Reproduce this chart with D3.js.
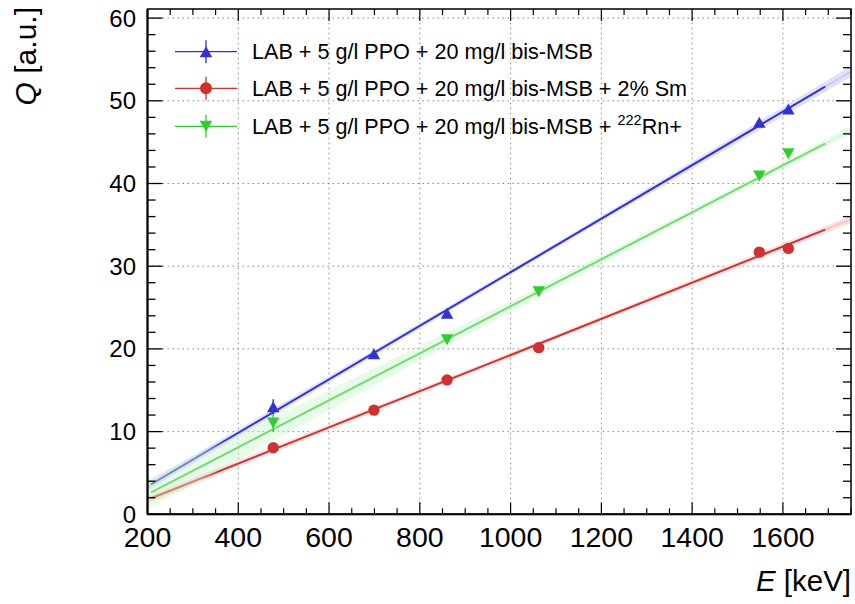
<!DOCTYPE html>
<html>
<head>
<meta charset="utf-8">
<script src="https://cdn.jsdelivr.net/npm/d3@7"></script>
<style>
  html, body { margin: 0; padding: 0; background: #fff; }
  svg { display: block; font-family: "Liberation Sans", Arial, Helvetica, sans-serif; }
</style>
</head>
<body>
<svg id="chart" width="855" height="604"></svg>
<script>
// Measured light yield Q versus deposited energy E for three scintillator samples
const seriesNames = [
  "LAB + 5 g/l PPO + 20 mg/l bis-MSB",
  "LAB + 5 g/l PPO + 20 mg/l bis-MSB + 2% Sm",
  "LAB + 5 g/l PPO + 20 mg/l bis-MSB + "
];

const blueE = [477, 699, 860, 1548, 1612];
const blueQ = [13.0, 19.4, 24.3, 47.4, 49.0];
const blueErr = [0.9, 0.3, 0.4, 0.3, 0.3];

const redE = [477, 699, 860, 1062, 1548, 1612];
const redQ = [8.05, 12.6, 16.25, 20.15, 31.7, 32.15];
const redErr = [0.3, 0.3, 0.3, 0.3, 0.3, 0.3];

const greenE = [477, 860, 1062, 1548, 1612];
const greenQ = [11.05, 21.1, 26.9, 40.9, 43.6];
const greenErr = [1.1, 0.5, 0.4, 0.3, 0.3];

// Linear fit parameters (Q = slope * E + intercept) and fitted range
const fitSlope = [0.03237, 0.02187, 0.0284];
const fitIntercept = [-3.1, -2.61, -3.25];
const fitRange = [208, 1693];

// Confidence band half-widths sampled along E
const bandE = [200, 400, 600, 800, 1000, 1200, 1400, 1600, 1750];
const blueBand = [0.5, 0.45, 0.4, 0.35, 0.3, 0.35, 0.45, 0.55, 0.65];
const redBand = [0.45, 0.4, 0.35, 0.3, 0.3, 0.3, 0.35, 0.4, 0.45];
const greenBand = [1.8, 1.5, 1.2, 0.9, 0.65, 0.5, 0.45, 0.45, 0.5];

const xTicks = [200, 400, 600, 800, 1000, 1200, 1400, 1600];
const yTicks = [0, 10, 20, 30, 40, 50, 60];

const svg = d3.select("#chart");
const L = 147.5, R = 851, T = 9, B = 514.3;

const x = d3.scaleLinear().domain([200, 1750]).range([L, R]);
const y = d3.scaleLinear().domain([0, 61.1]).range([B, T]);

const colors = ["#3232cc", "#cc3232", "#32cc32"];

// grid
const grid = svg.append("g").attr("stroke", "#8a8a8a").attr("stroke-width", 1)
  .attr("stroke-dasharray", "1.6,3.4");
xTicks.filter(d => d > 200).forEach(d => {
  grid.append("line").attr("x1", x(d)).attr("x2", x(d)).attr("y1", B).attr("y2", T);
});
yTicks.filter(d => d > 0).forEach(d => {
  grid.append("line").attr("x1", L).attr("x2", R).attr("y1", y(d)).attr("y2", y(d));
});

const plot = svg.append("g");
svg.append("clipPath").attr("id", "clip").append("rect")
  .attr("x", L).attr("y", T).attr("width", R - L).attr("height", B - T);
plot.attr("clip-path", "url(#clip)");

const fitQ = (i, e) => fitSlope[i] * e + fitIntercept[i];

function band(i, widths) {
  return d3.area()
    .x((e) => x(e))
    .y0((e, k) => y(fitQ(i, e) - widths[k]))
    .y1((e, k) => y(fitQ(i, e) + widths[k]))(bandE);
}

// blue and red bands under the lines
plot.append("path").attr("d", band(1, redBand)).attr("fill", "#fbdede");
plot.append("path").attr("d", band(0, blueBand)).attr("fill", "#dfe0fa");

// faint full-range fit functions and solid fitted lines
[0, 1, 2].forEach(i => {
  plot.append("line")
    .attr("x1", x(200)).attr("y1", y(fitQ(i, 200)))
    .attr("x2", x(1750)).attr("y2", y(fitQ(i, 1750)))
    .attr("stroke", colors[i]).attr("stroke-opacity", 0.18).attr("stroke-width", 1.2);
  plot.append("line")
    .attr("x1", x(fitRange[0])).attr("y1", y(fitQ(i, fitRange[0])))
    .attr("x2", x(fitRange[1])).attr("y2", y(fitQ(i, fitRange[1])))
    .attr("stroke", colors[i]).attr("stroke-width", 2);
});

// green band drawn over the lines
plot.append("path").attr("d", band(2, greenBand))
  .attr("fill", "#c8f3c8").attr("fill-opacity", 0.42);

// markers
function triPath(up, w, h) {
  const s = up ? 1 : -1;
  return `M${-w / 2},${s * h / 2}L${w / 2},${s * h / 2}L0,${-s * h / 2}Z`;
}

function drawSeries(E, Q, err, i, shape) {
  const g = svg.append("g");
  E.forEach((e, k) => {
    g.append("line").attr("x1", x(e)).attr("x2", x(e))
      .attr("y1", y(Q[k] - err[k])).attr("y2", y(Q[k] + err[k]))
      .attr("stroke", colors[i]).attr("stroke-width", 1.5);
    if (shape === "circle") {
      g.append("circle").attr("cx", x(e)).attr("cy", y(Q[k])).attr("r", 5.7)
        .attr("fill", colors[i]);
    } else {
      g.append("path").attr("transform", `translate(${x(e)},${y(Q[k])})`)
        .attr("d", triPath(shape === "up", 12.5, 11)).attr("fill", colors[i]);
    }
  });
}
drawSeries(blueE, blueQ, blueErr, 0, "up");
drawSeries(redE, redQ, redErr, 1, "circle");
drawSeries(greenE, greenQ, greenErr, 2, "down");

// frame and ticks
const ax = svg.append("g").attr("stroke", "#000").attr("fill", "none");
ax.append("rect").attr("x", L).attr("y", T).attr("width", R - L).attr("height", B - T)
  .attr("stroke-width", 1.5);
ax.append("line").attr("x1", L).attr("x2", L).attr("y1", T).attr("y2", B).attr("stroke-width", 2);
ax.append("line").attr("x1", L).attr("x2", R).attr("y1", B).attr("y2", B).attr("stroke-width", 2);
d3.range(0, 61, 2).forEach(v => {
  const major = v % 10 === 0;
  const len = major ? 15 : 8;
  ax.append("line").attr("x1", L).attr("x2", L + len).attr("y1", y(v)).attr("y2", y(v)).attr("stroke-width", 1.3);
  ax.append("line").attr("x1", R).attr("x2", R - len).attr("y1", y(v)).attr("y2", y(v)).attr("stroke-width", 1.3);
});
d3.range(200, 1751, 50).forEach(v => {
  const major = v % 200 === 0;
  const len = major ? 12 : 6;
  ax.append("line").attr("x1", x(v)).attr("x2", x(v)).attr("y1", B).attr("y2", B - len).attr("stroke-width", 1.2);
  ax.append("line").attr("x1", x(v)).attr("x2", x(v)).attr("y1", T).attr("y2", T + len).attr("stroke-width", 1.2);
});

// tick labels
svg.append("g").selectAll("text").data(yTicks).join("text")
  .attr("x", 136).attr("y", d => y(d) + 8.5).attr("text-anchor", "end")
  .attr("font-size", 24).text(d => d);
svg.append("g").selectAll("text").data(xTicks).join("text")
  .attr("x", d => x(d)).attr("y", 547).attr("text-anchor", "middle")
  .attr("font-size", 28.5).text(d => d);

// axis titles
const yt = svg.append("text").attr("transform", "translate(36,7) rotate(-90)")
  .attr("text-anchor", "end").attr("font-size", 30);
yt.append("tspan").attr("font-style", "italic").text("Q");
yt.append("tspan").text(" [a.u.]");
const xt = svg.append("text").attr("x", 851).attr("y", 591)
  .attr("text-anchor", "end").attr("font-size", 29.5);
xt.append("tspan").attr("font-style", "italic").text("E");
xt.append("tspan").text(" [keV]");

// legend
const legY = [51.7, 88.3, 126.3];
const shapes = ["up", "circle", "down"];
const leg = svg.append("g");
[0, 1, 2].forEach(i => {
  const cy = legY[i];
  leg.append("line").attr("x1", 175).attr("x2", 237).attr("y1", cy).attr("y2", cy)
    .attr("stroke", colors[i]).attr("stroke-width", 1.3);
  leg.append("line").attr("x1", 206).attr("x2", 206).attr("y1", cy - 11.5).attr("y2", cy + 11.5)
    .attr("stroke", colors[i]).attr("stroke-width", 1.3);
  if (shapes[i] === "circle") {
    leg.append("circle").attr("cx", 206).attr("cy", cy).attr("r", 6).attr("fill", colors[i]);
  } else {
    leg.append("path").attr("transform", `translate(206,${cy})`)
      .attr("d", triPath(shapes[i] === "up", 12.5, 11)).attr("fill", colors[i]);
  }
  const t = leg.append("text").attr("x", 252).attr("y", cy + 7.5).attr("font-size", 21.6)
    .text(seriesNames[i]);
  if (i === 2) {
    t.append("tspan").attr("font-size", 14.5).attr("dy", -9).text("222");
    t.append("tspan").attr("dy", 9).text("Rn+");
  }
});
</script>
</body>
</html>
